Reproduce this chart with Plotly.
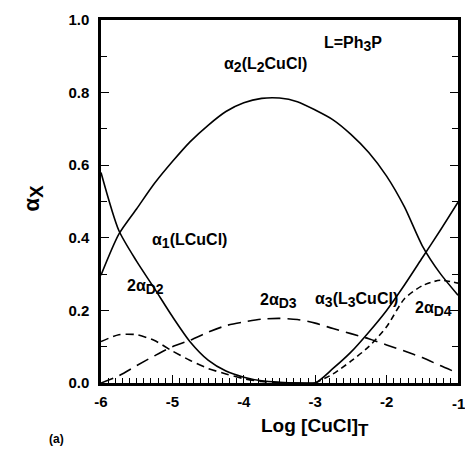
import plotly.graph_objects as go

logc = [-6, -5.75, -5.5, -5.25, -5, -4.75, -4.5, -4.25, -4, -3.75, -3.5, -3.25,
        -3, -2.75, -2.5, -2.25, -2, -1.75, -1.5, -1.25, -1]

alpha1 = [0.58, 0.42, 0.335, 0.26, 0.183, 0.113, 0.063, 0.033, 0.016, 0.006, 0.002, 0.0,
          0.0, 0.0, 0.0, 0.0, 0.0, 0.0, 0.0, 0.0, 0.0]
alpha2 = [0.297, 0.41, 0.48, 0.55, 0.61, 0.665, 0.71, 0.748, 0.772, 0.784, 0.785, 0.775,
          0.752, 0.725, 0.685, 0.635, 0.57, 0.485, 0.378, 0.302, 0.242]
alpha3 = [0.0, 0.0, 0.0, 0.0, 0.0, 0.0, 0.0, 0.0, 0.0, 0.0, 0.0, 0.0,
          0.0, 0.04, 0.085, 0.14, 0.2, 0.27, 0.345, 0.42, 0.498]
d2 = [0.114, 0.133, 0.133, 0.117, 0.088, 0.062, 0.04, 0.025, 0.012, 0.004, 0.001, 0.0,
      0.0, 0.0, 0.0, 0.0, 0.0, 0.0, 0.0, 0.0, 0.0]
d3 = [0.0, 0.02, 0.048, 0.075, 0.1, 0.118, 0.14, 0.158, 0.168, 0.176, 0.178, 0.175,
      0.165, 0.15, 0.136, 0.122, 0.105, 0.088, 0.07, 0.048, 0.027]
d4 = [0.0, 0.0, 0.0, 0.0, 0.0, 0.0, 0.0, 0.0, 0.0, 0.0, 0.0, 0.0,
      0.0, 0.025, 0.06, 0.1, 0.155, 0.232, 0.268, 0.283, 0.275]

xtick_vals = [-6, -5, -4, -3, -2, -1]
xtick_text = ["-6", "-5", "-4", "-3", "-2", "-1"]
ytick_vals = [0.0, 0.2, 0.4, 0.6, 0.8, 1.0]
ytick_text = ["0.0", "0.2", "0.4", "0.6", "0.8", "1.0"]


def seg(xs, ys, lo, hi):
    px = [x for x in xs if lo <= x <= hi]
    py = [y for x, y in zip(xs, ys) if lo <= x <= hi]
    return px, py


fig = go.Figure()
series = [
    (logc, alpha1, "solid", -6, -3),
    (logc, alpha2, "solid", -6, -1),
    (logc, alpha3, "solid", -3.5, -1),
    (logc, d2, "8px,5px", -6, -3.5),
    (logc, d3, "13px,7px", -6, -1),
    (logc, d4, "6px,4px", -3, -1),
]
for xs, ys, dash, lo, hi in series:
    px, py = seg(xs, ys, lo, hi)
    fig.add_trace(go.Scatter(x=px, y=py, mode="lines",
                             line=dict(color="black", width=1.6, dash=dash,
                                       shape="spline", smoothing=0.7),
                             showlegend=False, hoverinfo="skip"))

FAM = "Liberation Sans, Arial, sans-serif"


def sub(s, size=14):
    return "<sub><span style='font-size:%dpx'>%s</span></sub>" % (size, s)


lab = dict(family=FAM, size=16, color="black")
annots = [
    ("α" + sub("2") + "(L" + sub("2") + "CuCl)", -3.7, 0.875),
    ("L=Ph" + sub("3") + "P", -2.47, 0.935),
    ("α" + sub("1") + "(LCuCl)", -4.76, 0.39),
    ("2α" + sub("D2"), -5.38, 0.265),
    ("2α" + sub("D3"), -3.52, 0.225),
    ("α" + sub("3") + "(L" + sub("3") + "CuCl)", -2.42, 0.23),
    ("2α" + sub("D4"), -1.35, 0.205),
]
for t, x, y in annots:
    fig.add_annotation(x=x, y=y, text="<b>" + t + "</b>", showarrow=False,
                       font=lab, xref="x", yref="y")

fig.add_annotation(text="<b>α" + sub("X", 19) + "</b>", xref="paper", yref="paper",
                   x=-0.235, y=0.51, showarrow=False, textangle=-90,
                   font=dict(family=FAM, size=22, color="black"))
fig.add_annotation(text="<b>Log [CuCl]" + sub("T", 17) + "</b>", xref="paper", yref="paper",
                   x=0.6, y=-0.082, yanchor="top", showarrow=False,
                   font=dict(family=FAM, size=19, color="black"))
fig.add_annotation(text="<b>(a)</b>", xref="paper", yref="paper",
                   x=-0.15, y=-0.13, yanchor="top", showarrow=False,
                   font=dict(family=FAM, size=12, color="black"))
# last x tick label sits on the window edge
fig.add_annotation(text="<b>" + xtick_text[-1] + "</b>", x=xtick_vals[-1], xref="x",
                   y=-0.028, yref="paper", yanchor="top", showarrow=False,
                   font=dict(family=FAM, size=15, color="black"))

tickfont = dict(family=FAM, size=15, color="black")
fig.update_xaxes(range=[-6, -1], tickvals=xtick_vals[:-1],
                 ticktext=["<b>%s</b>" % t for t in xtick_text[:-1]],
                 ticks="inside", ticklen=8, tickwidth=1.2,
                 tickcolor="black", showline=True, linewidth=2.5, linecolor="black",
                 mirror=True, showgrid=False, zeroline=False, tickfont=tickfont,
                 ticklabelstandoff=3,
                 minor=dict(dtick=0.1, tick0=-6, ticks="inside", ticklen=5, tickwidth=1,
                            tickcolor="black", showgrid=False))
fig.update_yaxes(range=[0, 1.0], tickvals=ytick_vals,
                 ticktext=["<b>%s</b>" % t for t in ytick_text],
                 ticks="inside", ticklen=8, tickwidth=1.2,
                 tickcolor="black", showline=True, linewidth=2.5, linecolor="black",
                 mirror="ticks", showgrid=False, zeroline=False, tickfont=tickfont,
                 ticklabelstandoff=6,
                 minor=dict(dtick=0.1, tick0=0, ticks="inside", ticklen=6, tickwidth=1,
                            tickcolor="black", showgrid=False))
fig.update_layout(width=465, height=456, margin=dict(l=101, r=4, t=20, b=73),
                  plot_bgcolor="white", paper_bgcolor="white")
fig.write_html("out.html")
